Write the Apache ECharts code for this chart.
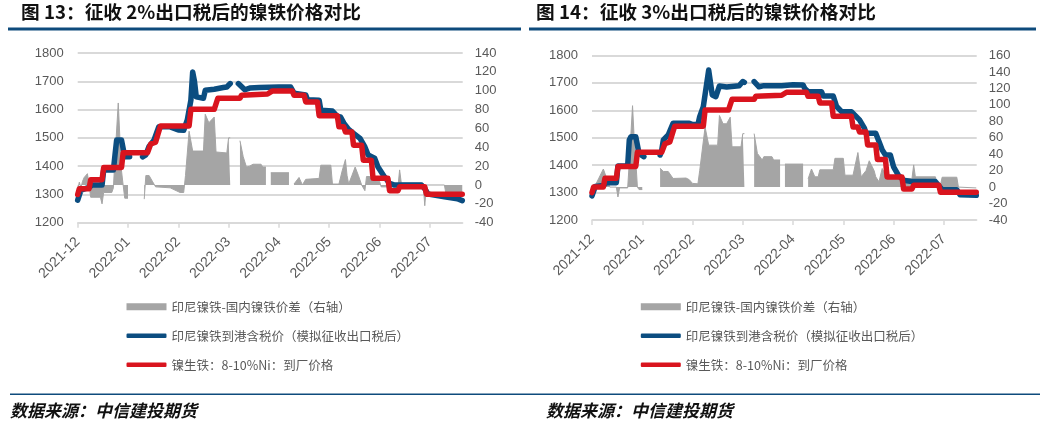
<!DOCTYPE html>
<html><head><meta charset="utf-8">
<script src="https://cdn.jsdelivr.net/npm/echarts@6/dist/echarts.min.js"></script>
<style>html,body{margin:0;padding:0;background:#fff}#c{width:1042px;height:428px}</style>
</head><body><div id="c"></div>
<script>
// ---- data ----
const monthLabels = ['2021-12','2022-01','2022-02','2022-03','2022-04','2022-05','2022-06','2022-07'];

// 镍生铁 8-10%Ni 到厂价格 (left axis, both charts)
const npiPrice = [
['2021-12-01',1300],['2021-12-02',1320],['2021-12-08',1320],['2021-12-09',1352],['2021-12-16',1352],['2021-12-17',1395],['2021-12-28',1395],['2021-12-29',1447],['2022-01-13',1447],['2022-01-15',1478],['2022-01-18',1485],['2022-01-21',1542],['2022-02-07',1542],['2022-02-08',1601],['2022-02-21',1601],['2022-02-23',1640],['2022-03-08',1640],['2022-03-09',1651],['2022-03-25',1655],['2022-03-28',1666],['2022-04-09',1666],['2022-04-10',1651],['2022-04-16',1651],['2022-04-17',1627],['2022-04-24',1627],['2022-04-25',1578],['2022-05-06',1578],['2022-05-07',1539],['2022-05-10',1539],['2022-05-11',1521],['2022-05-15',1521],['2022-05-16',1474],['2022-05-21',1474],['2022-05-22',1421],['2022-05-27',1421],['2022-05-28',1357],['2022-06-06',1357],['2022-06-07',1313],['2022-06-12',1313],['2022-06-13',1327],['2022-06-28',1327],['2022-06-29',1301],['2022-07-21',1301]
];

// 图13: 印尼镍铁到港含税价 (2%出口税)
const indoPrice13 = [
['2021-12-01',1280],['2021-12-03',1315],['2021-12-08',1325],['2021-12-10',1333],['2021-12-16',1333],['2021-12-17',1386],['2021-12-23',1386],['2021-12-24',1440],['2021-12-25',1492],['2021-12-28',1492],['2021-12-30',1433],['2022-01-02',1433],['2022-01-05',null],['2022-01-10',1433],['2022-01-12',1440],['2022-01-14',1470],['2022-01-17',1492],['2022-01-20',1539],['2022-01-27',1539],['2022-02-01',1528],['2022-02-04',1527],['2022-02-06',1563],['2022-02-08',1633],['2022-02-09',1733],['2022-02-10',1700],['2022-02-11',1645],['2022-02-15',1640],['2022-02-16',1668],['2022-02-21',1672],['2022-02-26',1678],['2022-02-28',1680],['2022-03-02',1692],['2022-03-04',null],['2022-03-07',1692],['2022-03-08',1692],['2022-03-11',1670],['2022-03-14',1676],['2022-03-20',1678],['2022-04-01',1680],['2022-04-08',1680],['2022-04-10',1658],['2022-04-17',1652],['2022-04-18',1635],['2022-04-25',1633],['2022-04-26',1598],['2022-05-03',1595],['2022-05-06',1576],['2022-05-08',1574],['2022-05-10',1552],['2022-05-13',1530],['2022-05-16',1516],['2022-05-20',1498],['2022-05-23',1468],['2022-05-25',1439],['2022-05-29',1428],['2022-05-31',1398],['2022-06-04',1362],['2022-06-07',1339],['2022-06-10',1333],['2022-06-26',1333],['2022-06-28',1320],['2022-06-30',1301],['2022-07-10',1292],['2022-07-18',1285],['2022-07-21',1278]
];

// 图13: 印尼镍铁-国内镍铁价差 (right axis)
const spread13 = [
['2021-12-01',-5],['2021-12-02',3],['2021-12-03',-3],['2021-12-04',4],['2021-12-05',8],['2021-12-07',12],['2021-12-08',0],['2021-12-09',-13],['2021-12-15',-13],['2021-12-16',-20],['2021-12-17',-8],['2021-12-22',-8],['2021-12-23',-3],['2021-12-24',30],['2021-12-26',87],['2021-12-27',50],['2021-12-28',15],['2021-12-29',0],['2021-12-30',-14],['2022-01-01',-14],['2022-01-02',null],['2022-01-11',-15],['2022-01-12',10],['2022-01-13',8],['2022-01-14',10],['2022-01-16',4],['2022-01-18',-2],['2022-01-27',-3],['2022-02-02',-8],['2022-02-04',-8],['2022-02-05',10],['2022-02-07',57],['2022-02-09',36],['2022-02-15',36],['2022-02-16',75],['2022-02-18',66],['2022-02-19',66],['2022-02-21',72],['2022-02-22',35],['2022-02-28',34],['2022-03-01',50],['2022-03-02',50],['2022-03-03',null],['2022-03-08',47],['2022-03-10',30],['2022-03-12',19],['2022-03-14',20],['2022-03-16',22],['2022-03-21',22],['2022-03-22',19],['2022-03-24',19],['2022-03-25',null],['2022-03-27',13],['2022-04-07',13],['2022-04-08',null],['2022-04-10',1],['2022-04-13',8],['2022-04-15',0],['2022-04-17',6],['2022-04-25',7],['2022-04-26',21],['2022-05-02',21],['2022-05-03',1],['2022-05-07',1],['2022-05-09',15],['2022-05-11',27],['2022-05-12',10],['2022-05-13',1],['2022-05-15',10],['2022-05-17',19],['2022-05-19',10],['2022-05-21',0],['2022-05-23',-6],['2022-05-24',9],['2022-05-26',9],['2022-05-27',4.5],['2022-06-01',4],['2022-06-02',-2],['2022-06-12',-2],['2022-06-13',16],['2022-06-14',2],['2022-06-27',2],['2022-06-28',-22],['2022-06-29',0],['2022-07-10',0],['2022-07-11',-10],['2022-07-21',-10]
];

// 图14: 印尼镍铁到港含税价 (3%出口税)
const indoPrice14 = [
['2021-12-01',1288],['2021-12-03',1322],['2021-12-08',1326],['2021-12-10',1336],['2021-12-16',1336],['2021-12-17',1397],['2021-12-23',1398],['2021-12-24',1492],['2021-12-25',1504],['2021-12-28',1504],['2021-12-30',1443],['2022-01-02',1431],['2022-01-05',null],['2022-01-12',1437],['2022-01-13',1455],['2022-01-14',1492],['2022-01-17',1510],['2022-01-20',1553],['2022-01-30',1553],['2022-02-01',1548],['2022-02-04',1548],['2022-02-05',1577],['2022-02-07',1613],['2022-02-10',1747],['2022-02-12',1656],['2022-02-14',1650],['2022-02-16',1689],['2022-02-20',1685],['2022-02-27',1690],['2022-03-01',1705],['2022-03-02',1702],['2022-03-04',null],['2022-03-08',1705],['2022-03-11',1686],['2022-03-14',1690],['2022-03-25',1690],['2022-04-01',1693],['2022-04-07',1692],['2022-04-08',1680],['2022-04-10',1668],['2022-04-18',1668],['2022-04-19',1652],['2022-04-25',1652],['2022-04-27',1614],['2022-04-30',1595],['2022-05-06',1595],['2022-05-11',1565],['2022-05-14',1535],['2022-05-15',1516],['2022-05-21',1516],['2022-05-23',1486],['2022-05-25',1455],['2022-05-27',1437],['2022-05-30',1437],['2022-06-01',1394],['2022-06-04',1362],['2022-06-07',1345],['2022-06-12',1340],['2022-06-26',1340],['2022-06-28',1325],['2022-06-30',1310],['2022-07-09',1310],['2022-07-10',1303],['2022-07-11',1292],['2022-07-21',1290]
];

// 图14: 价差 (right axis)
const spread14 = [
['2021-12-01',-3],['2021-12-03',2],['2021-12-05',10],['2021-12-08',22],['2021-12-12',0],['2021-12-16',0],['2021-12-17',-12],['2021-12-18',-1],['2021-12-23',-1],['2021-12-24',30],['2021-12-26',99],['2021-12-27',60],['2021-12-28',33],['2021-12-29',0],['2021-12-30',-3],['2022-01-01',-3],['2022-01-02',null],['2022-01-12',23],['2022-01-14',19],['2022-01-15',21],['2022-01-17',19],['2022-01-20',10.5],['2022-01-28',11],['2022-01-30',9],['2022-02-01',4.5],['2022-02-04',4],['2022-02-05',20],['2022-02-08',73],['2022-02-10',51],['2022-02-15',51],['2022-02-16',87],['2022-02-18',77],['2022-02-20',77],['2022-02-22',85],['2022-02-23',49],['2022-02-28',49],['2022-03-01',65],['2022-03-02',65],['2022-03-03',null],['2022-03-08',65],['2022-03-10',41],['2022-03-13',33],['2022-03-14',37],['2022-03-19',37],['2022-03-20',33],['2022-03-24',33],['2022-03-25',null],['2022-03-27',28],['2022-04-07',28],['2022-04-08',null],['2022-04-10',10],['2022-04-12',22],['2022-04-14',12.5],['2022-04-16',12.5],['2022-04-17',21],['2022-04-25',21],['2022-04-26',35],['2022-05-01',35],['2022-05-02',14.5],['2022-05-07',14.5],['2022-05-10',42],['2022-05-12',12.5],['2022-05-15',20],['2022-05-17',32],['2022-05-20',20],['2022-05-21',12.5],['2022-05-23',6.5],['2022-05-25',22.6],['2022-05-27',15],['2022-05-29',13],['2022-06-07',13],['2022-06-08',10.5],['2022-06-12',10.5],['2022-06-13',27],['2022-06-14',12.5],['2022-06-26',12.5],['2022-06-27',2.5],['2022-06-29',2.5],['2022-06-30',12],['2022-07-09',12],['2022-07-10',0],['2022-07-21',-1]
];

const names = ['印尼镍铁-国内镍铁价差（右轴）','印尼镍铁到港含税价（模拟征收出口税后）','镍生铁：8-10%Ni：到厂价格'];

// ---- helpers ----
function monthPos(s){
  const [y,m,d] = s.split('-').map(Number);
  const dim = new Date(y, m, 0).getDate();
  return (y-2021)*12 + (m-12) + (d-1)/dim;
}
function toXY(arr){ return arr.map(([d,v]) => [monthPos(d), v === null ? '-' : v]); }

const FONT = '"Noto Sans CJK SC","Noto Sans",sans-serif';
const NUMFONT = '"Liberation Sans","Noto Sans",sans-serif';
const GRAY = '#a5a5a5', BLUE = '#0b4d80', RED = '#d9141e', TXT = '#595959', GRID = '#d9d9d9';
const X_MAX = 7.654;
const tickVals = monthLabels.map((_, i) => i);

function xAxis(gi){
  return {type:'value', gridIndex:gi, min:0, max:X_MAX,
    axisLine:{show:true, onZero:false, lineStyle:{color:GRID, width:1.5}},
    axisTick:{show:true, customValues:tickVals, length:5, lineStyle:{color:GRID, width:1.5}},
    axisLabel:{customValues:tickVals, formatter:v => monthLabels[Math.round(v)] || '', rotate:45, color:TXT, fontSize:14, fontFamily:NUMFONT, margin:17},
    splitLine:{show:false}};
}
function yLeft(gi){
  return {type:'value', gridIndex:gi, position:'left', min:1200, max:1800, interval:100,
    axisLine:{show:false}, axisTick:{show:false},
    axisLabel:{color:TXT, fontSize:13, fontFamily:NUMFONT, margin:14, formatter:v => String(v)},
    splitLine:{show:true, lineStyle:{color:GRID, width:2}}};
}
function yRight(gi, max){
  return {type:'value', gridIndex:gi, position:'right', min:-40, max:max, interval:20,
    axisLine:{show:false}, axisTick:{show:false},
    axisLabel:{color:TXT, fontSize:13, fontFamily:NUMFONT, margin:12, formatter:v => String(v)},
    splitLine:{show:false}};
}
function seriesFor(gi, spread, indo){
  return [
    {name:names[0], type:'line', xAxisIndex:gi, yAxisIndex:gi*2+1, data:toXY(spread), showSymbol:false, symbol:'none',
     lineStyle:{width:1, color:GRAY}, itemStyle:{color:GRAY}, areaStyle:{color:GRAY, opacity:1}, z:1, silent:true, animation:false},
    {name:names[1], type:'line', xAxisIndex:gi, yAxisIndex:gi*2, data:toXY(indo), showSymbol:false, symbol:'none',
     lineStyle:{width:5.5, color:BLUE, cap:'round', join:'round'}, itemStyle:{color:BLUE}, z:2, silent:true, animation:false},
    {name:names[2], type:'line', xAxisIndex:gi, yAxisIndex:gi*2, data:toXY(npiPrice), showSymbol:false, symbol:'none',
     lineStyle:{width:5.5, color:RED, cap:'round', join:'round'}, itemStyle:{color:RED}, z:3, silent:true, animation:false}
  ];
}
function legends(left){
  const tops = [300.5, 329.5, 358.5];
  const icons = [{h:7, c:GRAY}, {h:4.5, c:BLUE}, {h:4.5, c:RED}];
  return names.map((n, i) => ({
    data:[n], left:left, top:tops[i], orient:'vertical', padding:0, itemGap:0,
    itemWidth:40, itemHeight:icons[i].h, icon: i === 0 ? 'rect' : 'roundRect',
    itemStyle:{color:icons[i].c, borderWidth:0},
    textStyle:{color:TXT, fontSize:12.5, fontFamily:FONT, padding:[0,0,0,0]},
    selectedMode:false
  }));
}

const chart = echarts.init(document.getElementById('c'), null, {renderer:'canvas'});
chart.setOption({
  animation:false,
  backgroundColor:'#fff',
  grid:[
    {left:77.7, right:1042-462.7, top:53, bottom:428-222.7, containLabel:false},
    {left:592, right:1042-976.7, top:55.5, bottom:428-220, containLabel:false}
  ],
  xAxis:[xAxis(0), xAxis(1)],
  yAxis:[yLeft(0), yRight(0,140), yLeft(1), yRight(1,160)],
  legend:[...legends(126.5), ...legends(640.8)],
  series:[...seriesFor(0, spread13, indoPrice13), ...seriesFor(1, spread14, indoPrice14)],
  graphic:[
    {type:'text', left:21, top:2.5, style:{text:'图 13：征收 2%出口税后的镍铁价格对比', font:'bold 18.7px '+FONT, fill:'#111'}},
    {type:'text', left:536, top:2.5, style:{text:'图 14：征收 3%出口税后的镍铁价格对比', font:'bold 18.7px '+FONT, fill:'#111'}},
    {type:'rect', shape:{x:8, y:27.5, width:513, height:3}, style:{fill:'#0e4b7c'}},
    {type:'rect', shape:{x:529, y:27.5, width:507, height:3}, style:{fill:'#0e4b7c'}},
    {type:'rect', shape:{x:10, y:393.5, width:1030, height:1.5}, style:{fill:'#0e4b7c'}},
    {type:'text', left:10, top:402.5, style:{text:'数据来源：中信建投期货', font:'italic bold 17px '+FONT, fill:'#111'}},
    {type:'text', left:546, top:402.5, style:{text:'数据来源：中信建投期货', font:'italic bold 17px '+FONT, fill:'#111'}}
  ]
});
</script></body></html>
